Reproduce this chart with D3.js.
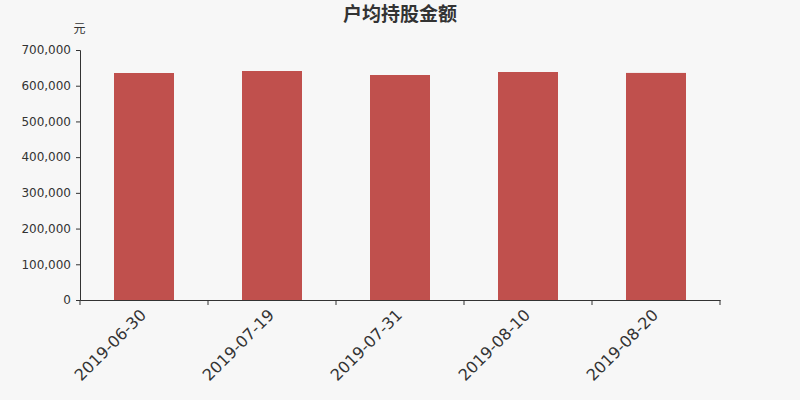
<!DOCTYPE html>
<html><head><meta charset="utf-8">
<script src="https://cdn.jsdelivr.net/npm/d3@7"></script>
<style>body{margin:0;background:#f7f7f7;}svg{display:block;}</style>
</head><body>
<svg id="c" width="800" height="400"></svg>
<script>
const categories = ["2019-06-30","2019-07-19","2019-07-31","2019-08-10","2019-08-20"];
const values = [635600, 641200, 630000, 638400, 635800];
const yTicks = [0,100000,200000,300000,400000,500000,600000,700000];
const title = "户均持股金额";
const unit = "元";

(function(){
const svg = d3.select("#c");
svg.append("rect").attr("width",800).attr("height",400).attr("fill","#f7f7f7");
const mLeft=80,mRight=720,mTop=50,mBottom=300;
const x = d3.scaleBand().domain(categories).range([mLeft,mRight]).paddingInner(0).paddingOuter(0);
const y = d3.scaleLinear().domain([0,700000]).range([mBottom,mTop]);
const fmt = d3.format(",");

svg.append("g").selectAll("rect").data(values).join("rect")
  .attr("x",(d,i)=>x(categories[i])+x.bandwidth()/2-30)
  .attr("width",60)
  .attr("y",d=>y(d)).attr("height",d=>mBottom-y(d))
  .attr("fill","#c0504d");

const ya = svg.append("g").attr("transform",`translate(${mLeft},0)`)
  .call(d3.axisLeft(y).tickValues(yTicks).tickFormat(fmt).tickSizeOuter(0).tickSize(4).tickPadding(5));
ya.selectAll("text").attr("font-family","DejaVu Sans").attr("font-size",12).attr("fill","#333");
ya.selectAll("line,path").attr("stroke","#333");

const xa = svg.append("g").attr("transform",`translate(0,${mBottom})`)
  .call(d3.axisBottom(x).tickSize(0).tickSizeOuter(0));
xa.select("path").attr("stroke","#333");
xa.selectAll("text").attr("font-family","DejaVu Sans").attr("font-size",16).attr("fill","#333")
  .attr("text-anchor","end").attr("dy",0).attr("dx",0)
  .attr("transform","translate(1,14) rotate(-45)");
const bounds = categories.map(c=>x(c)).concat([mRight]);
svg.append("g").selectAll("line").data(bounds).join("line")
  .attr("x1",d=>d).attr("x2",d=>d).attr("y1",mBottom).attr("y2",mBottom+5).attr("stroke","#333");

svg.append("text").attr("x",400).attr("y",21).attr("text-anchor","middle")
  .attr("font-family","Noto Sans CJK SC").attr("font-weight","bold").attr("font-size",19).attr("fill","#333").text(title);
svg.append("text").attr("x",79.5).attr("y",33).attr("text-anchor","middle")
  .attr("font-family","Noto Sans CJK SC").attr("font-size",12).attr("fill","#333").text(unit);
})();
</script>
</body></html>
